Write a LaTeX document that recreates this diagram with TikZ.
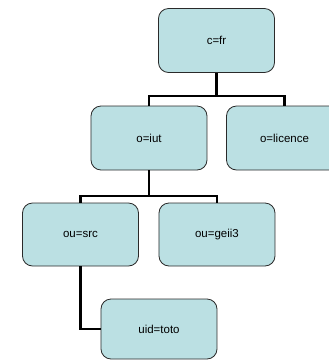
\documentclass[tikz,border=0pt]{standalone}
\usepackage{fontspec}
\setmainfont{Liberation Sans}
\definecolor{boxfill}{HTML}{BBE0E3}
\definecolor{boxline}{HTML}{2A2A2A}
\begin{document}
\begin{tikzpicture}[x=1pt,y=-1pt,
  entry/.style={draw=boxline,fill=boxfill,line width=0.8pt,rounded corners=10pt,
    minimum width=116pt,minimum height=64pt,inner sep=0pt,font=\fontsize{11.5}{13}\selectfont},
  link/.style={line width=2.2pt,black}]
\useasboundingbox (0,0) rectangle (329,360);
\node[entry] (cfr) at (216.5,40.5) {c=fr};
\node[entry] (iut) at (149,138) {o=iut};
\node[entry] (lic) at (284.5,138) {o=licence};
\node[entry,minimum height=63pt] (src) at (80.5,234.5) {ou=src};
\node[entry,minimum height=63pt] (geii) at (217,234.5) {ou=geii3};
\node[entry,minimum height=60pt] (uid) at (159,329) {uid=toto};
\coordinate (b1) at (216.5,96);
\coordinate (b2) at (149,196);
\draw[link] (cfr.south) -- (b1);
\draw[link] (b1) -| (iut.north);
\draw[link] (b1) -| (lic.north);
\draw[link] (iut.south) -- (b2);
\draw[link] (b2) -| (src.north);
\draw[link] (b2) -| (geii.north);
\draw[link] (src.south) |- (uid.west);
\end{tikzpicture}
\end{document}
